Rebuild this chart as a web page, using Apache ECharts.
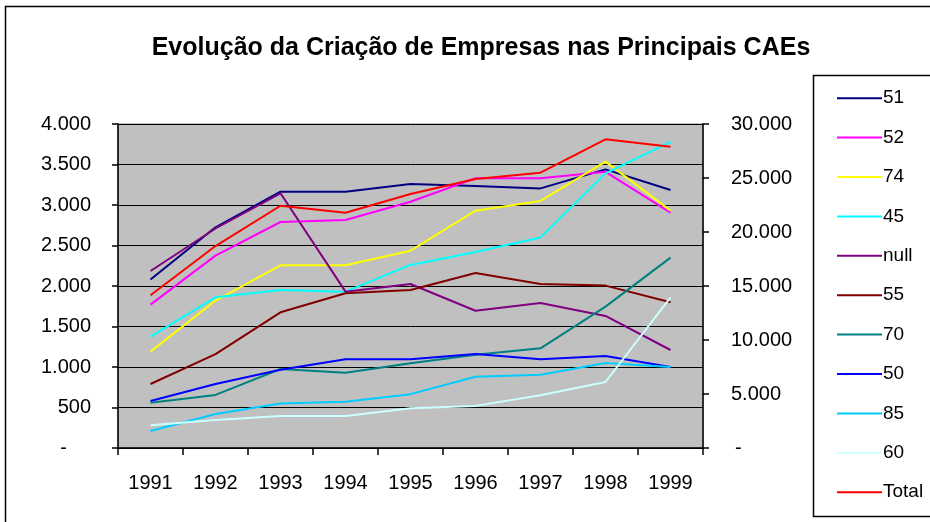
<!DOCTYPE html>
<html>
<head>
<meta charset="utf-8">
<script src="https://cdn.jsdelivr.net/npm/echarts@6/dist/echarts.min.js"></script>
<style>
  html, body { margin: 0; padding: 0; background: #fff; }
  #chart { width: 930px; height: 522px; }
</style>
</head>
<body>
<div id="chart"></div>
<script>
// categorias (anos)
const anos = ['1991', '1992', '1993', '1994', '1995', '1996', '1997', '1998', '1999'];

// séries no eixo da esquerda
const cae51 = [2080, 2725, 3165, 3165, 3260, 3235, 3205, 3440, 3185];
const cae52 = [1770, 2375, 2790, 2815, 3040, 3330, 3330, 3410, 2905];
const cae74 = [1190, 1820, 2255, 2255, 2435, 2930, 3050, 3535, 2930];
const cae45 = [1375, 1860, 1950, 1930, 2260, 2420, 2600, 3390, 3780];
const caeNull = [2185, 2710, 3145, 1930, 2025, 1695, 1790, 1630, 1210];
const cae55 = [790, 1160, 1675, 1910, 1950, 2160, 2025, 2005, 1800];
const cae70 = [560, 655, 975, 930, 1045, 1150, 1230, 1745, 2350];
const cae50 = [580, 790, 965, 1095, 1095, 1160, 1095, 1135, 1000];
const cae85 = [210, 420, 550, 570, 665, 880, 905, 1050, 1000];
const cae60 = [280, 345, 395, 395, 490, 520, 650, 815, 1860];

// total no eixo da direita
const total = [14140, 18700, 22430, 21790, 23520, 24900, 25490, 28580, 27900];

const nomes = ['51', '52', '74', '45', 'null', '55', '70', '50', '85', '60', 'Total'];
const cores = ['#000080', '#FF00FF', '#FFFF00', '#00FFFF', '#800080', '#800000', '#008080', '#0000FF', '#00CCFF', '#CCFFFF', '#FF0000'];
const dados = [cae51, cae52, cae74, cae45, caeNull, cae55, cae70, cae50, cae85, cae60, total];

const fonte = '"Liberation Sans", Arial, sans-serif';

// formato 4.000 / "-" para zero
function fmt(v) {
  if (v === 0) return '-';
  return String(v).replace(/\B(?=(\d{3})+(?!\d))/g, '.');
}

let myChart = echarts.init(document.getElementById('chart'));

let series = nomes.map((n, i) => ({
  name: n,
  type: 'line',
  yAxisIndex: n === 'Total' ? 1 : 0,
  data: dados[i],
  symbol: 'none',
  lineStyle: { color: cores[i], width: 2 },
  itemStyle: { color: cores[i] },
  z: 3 + i
}));

let option = {
  animation: false,
  textStyle: { fontFamily: fonte },
  title: {
    text: 'Evolução da Criação de Empresas nas Principais CAEs',
    left: 476,
    top: 31,
    textAlign: 'center',
    textStyle: { fontSize: 25, fontWeight: 'bold', color: '#000', fontFamily: fonte }
  },
  graphic: [
    // moldura do gráfico
    { type: 'rect', shape: { x: 5.5, y: 6.5, width: 960, height: 560 }, style: { fill: null, stroke: '#000', lineWidth: 1.5 }, z: 0 },
    // caixa da legenda
    { type: 'rect', shape: { x: 813.5, y: 75.5, width: 200, height: 441 }, style: { fill: '#fff', stroke: '#000', lineWidth: 1.5 }, z: 1 }
  ],
  legend: {
    orient: 'vertical',
    left: 832,
    top: 83,
    itemWidth: 45,
    itemHeight: 2,
    itemGap: 19,
    icon: 'rect',
    data: nomes,
    textStyle: { fontSize: 19, color: '#000', lineHeight: 20.4, fontFamily: fonte, padding: [0, 0, 0, -4] },
    z: 10
  },
  grid: {
    left: 118,
    right: 227,
    top: 124,
    bottom: 74,
    show: true,
    backgroundColor: '#C0C0C0',
    borderColor: '#808080',
    borderWidth: 1
  },
  xAxis: {
    type: 'category',
    data: anos,
    boundaryGap: true,
    axisLine: { lineStyle: { color: '#000', width: 1.5 } },
    axisTick: { show: true, length: 7, lineStyle: { color: '#000', width: 1.5 } },
    axisLabel: { color: '#000', fontSize: 20, margin: 25, interval: 0 }
  },
  yAxis: [
    {
      type: 'value',
      min: 0,
      max: 4000,
      interval: 500,
      position: 'left',
      axisLine: { show: true, lineStyle: { color: '#000', width: 1.5 } },
      axisTick: { show: true, length: 6, lineStyle: { color: '#000', width: 1.5 } },
      splitLine: { show: true, lineStyle: { color: '#000', width: 1 } },
      axisLabel: {
        color: '#000', fontSize: 20, margin: 27,
        formatter: v => v === 0 ? '{d|-}' : fmt(v),
        rich: { d: { fontSize: 20, color: '#000', padding: [0, 24, 0, 0] } }
      }
    },
    {
      type: 'value',
      min: 0,
      max: 30000,
      interval: 5000,
      position: 'right',
      axisLine: { show: true, lineStyle: { color: '#000', width: 1.5 } },
      axisTick: { show: true, length: 6, lineStyle: { color: '#000', width: 1.5 } },
      splitLine: { show: false },
      axisLabel: {
        color: '#000', fontSize: 20, margin: 28,
        formatter: v => v === 0 ? '{d|-}' : fmt(v),
        rich: { d: { fontSize: 20, color: '#000', padding: [0, 0, 0, 4] } }
      }
    }
  ],
  series: series
};

myChart.setOption(option);
</script>
</body>
</html>
